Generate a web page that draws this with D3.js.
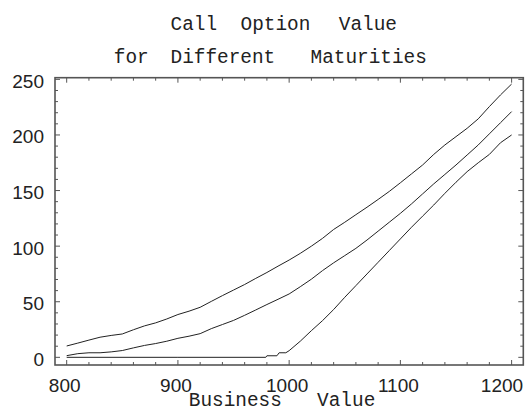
<!DOCTYPE html>
<html>
<head>
<meta charset="utf-8">
<script src="https://cdn.jsdelivr.net/npm/d3@7"></script>
<style>
  html, body { margin: 0; padding: 0; background: #fff; }
  svg { display: block; }
</style>
</head>
<body>
<svg id="chart" width="532" height="416"></svg>
<script>
// ---- data ----
const businessValue = [800, 810, 820, 830, 840, 850, 860, 870, 880, 890, 900,
  910, 920, 930, 940, 950, 960, 970, 980, 990, 1000,
  1010, 1020, 1030, 1040, 1050, 1060, 1070, 1080, 1090, 1100,
  1110, 1120, 1130, 1140, 1150, 1160, 1170, 1180, 1190, 1200];

const longMaturity = [10.2, 12.8, 15.5, 18.1, 19.7, 21.0, 24.8, 28.3, 31.0, 34.5, 38.5,
  41.5, 45.0, 50.3, 55.5, 60.5, 65.5, 71.0, 76.3, 82.0, 87.5,
  93.5, 100.0, 107.0, 115.0, 121.5, 128.3, 135.0, 142.0, 149.2, 157.0,
  165.0, 173.0, 182.5, 191.0, 198.5, 206.0, 214.5, 225.5, 236.0, 245.8];

const midMaturity = [1.5, 3.3, 4.1, 4.1, 4.9, 6.1, 8.5, 10.7, 12.4, 14.5, 17.1,
  19.0, 21.3, 25.8, 29.5, 33.2, 37.8, 42.6, 47.5, 52.2, 57.0,
  63.5, 70.3, 78.0, 85.0, 91.5, 98.0, 105.5, 113.5, 121.5, 129.5,
  138.0, 147.0, 156.0, 164.5, 173.0, 182.0, 191.0, 201.0, 211.0, 221.0];

const shortBusinessValue = [800, 900, 979, 980, 989, 991, 997, 1000,
  1010, 1020, 1030, 1040, 1050, 1060, 1070, 1080, 1090, 1100,
  1110, 1120, 1130, 1140, 1150, 1160, 1170, 1180, 1190, 1200];
const shortMaturity = [0, 0, 0, 1.4, 1.4, 4.1, 4.1, 6.0,
  14.5, 24.0, 33.0, 43.0, 54.0, 64.5, 75.0, 85.5, 96.0, 106.5,
  117.0, 127.0, 137.0, 147.5, 157.5, 167.0, 175.0, 182.5, 193.0, 200.0];

const xTickValues = [800, 900, 1000, 1100, 1200];
const xTickLabels = ["800", "900", "1000", "1100", "1200"];
const yTickValues = [0, 50, 100, 150, 200, 250];
const yTickLabels = ["0", "50", "100", "150", "200", "250"];

const titleLine1 = ["Call", "Option", "Value"];
const titleLine2 = ["for", "Different", "Maturities"];
const xAxisTitle = ["Business", "Value"];

// ---- layout ----
const svg = d3.select("#chart");
const frame = { left: 55, right: 523.3, top: 77.7, bottom: 365 };

const x = d3.scaleLinear().domain([789.5, 1210.5]).range([frame.left, frame.right]);
const y = d3.scaleLinear().domain([-6.9, 251.5]).range([frame.bottom, frame.top]);

const frameColor = "#555";
const monoFont = "'Liberation Mono', 'Courier New', Courier, monospace";
const sansFont = "'Liberation Sans', Arial, Helvetica, sans-serif";

// minor ticks
const xMinor = d3.range(800, 1201, 20).filter(v => v % 100 !== 0);
const yMinor = d3.range(0, 251, 10).filter(v => v % 50 !== 0);
const majorLen = 5, minorLen = 3;

const tickG = svg.append("g").attr("stroke", frameColor).attr("stroke-width", 1);
// bottom & top
[[xTickValues, majorLen], [xMinor, minorLen]].forEach(([vals, len]) => {
  vals.forEach(v => {
    tickG.append("line").attr("x1", x(v)).attr("x2", x(v))
      .attr("y1", frame.bottom).attr("y2", frame.bottom - len);
    tickG.append("line").attr("x1", x(v)).attr("x2", x(v))
      .attr("y1", frame.top).attr("y2", frame.top + len);
  });
});
// left & right
[[yTickValues, majorLen], [yMinor, minorLen]].forEach(([vals, len]) => {
  vals.forEach(v => {
    tickG.append("line").attr("y1", y(v)).attr("y2", y(v))
      .attr("x1", frame.left).attr("x2", frame.left + len);
    tickG.append("line").attr("y1", y(v)).attr("y2", y(v))
      .attr("x1", frame.right).attr("x2", frame.right - len);
  });
});

// frame
svg.append("rect")
  .attr("x", frame.left).attr("y", frame.top)
  .attr("width", frame.right - frame.left).attr("height", frame.bottom - frame.top)
  .attr("fill", "none").attr("stroke", frameColor).attr("stroke-width", 1.6);

// curves
const line = d3.line().x(d => x(d[0])).y(d => y(d[1]));
const series = [
  businessValue.map((v, i) => [v, longMaturity[i]]),
  businessValue.map((v, i) => [v, midMaturity[i]]),
  shortBusinessValue.map((v, i) => [v, shortMaturity[i]])
];
svg.append("g").selectAll("path").data(series).join("path")
  .attr("d", line)
  .attr("fill", "none")
  .attr("stroke", "#222")
  .attr("stroke-width", 1);

// tick labels
svg.append("g").selectAll("text").data(yTickValues).join("text")
  .attr("x", 44).attr("y", d => y(d) + 8.5)
  .attr("text-anchor", "end")
  .attr("font-family", sansFont).attr("font-size", 19)
  .attr("fill", "#222")
  .text((d, i) => yTickLabels[i]);

svg.append("g").selectAll("text").data(xTickValues).join("text")
  .attr("x", d => Math.min(x(d) - 2, 502))
  .attr("y", 391.5)
  .attr("text-anchor", "middle")
  .attr("font-family", sansFont).attr("font-size", 19)
  .attr("fill", "#222")
  .text((d, i) => xTickLabels[i]);

// titles (monospace, word-spaced like the original)
function words(list, xs, baseline) {
  svg.append("g").selectAll("text").data(list).join("text")
    .attr("x", (d, i) => xs[i]).attr("y", baseline)
    .attr("font-family", monoFont).attr("font-size", 19.4)
    .attr("fill", "#222")
    .text(d => d);
}
words(titleLine1, [170.5, 240.5, 338.8], 30);
words(titleLine2, [113.8, 170.5, 310.5], 63);
words(xAxisTitle, [188.8, 317.1], 406);
</script>
</body>
</html>
